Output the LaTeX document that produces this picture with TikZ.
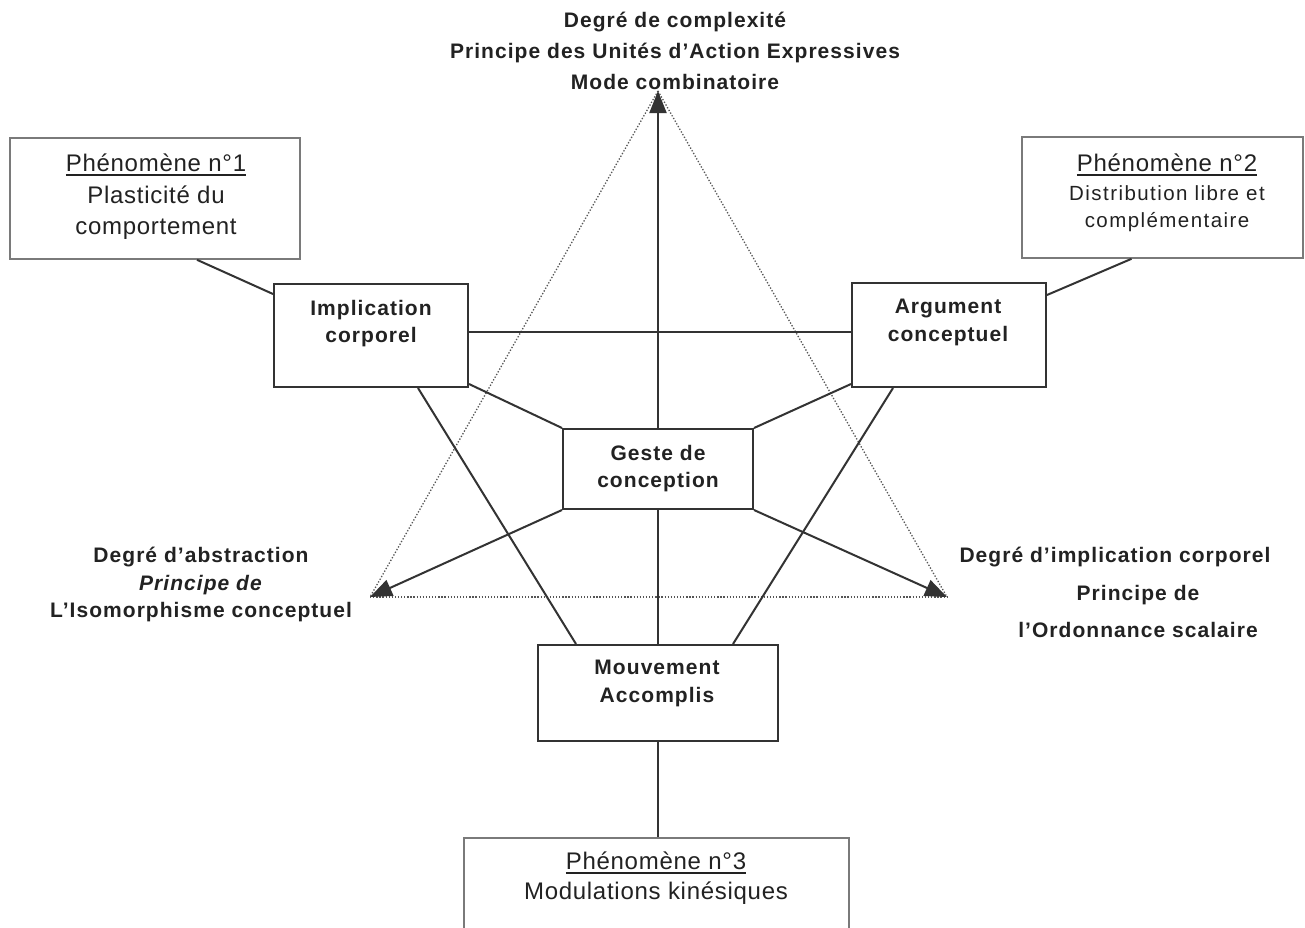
\documentclass[tikz,border=0pt]{standalone}
\usepackage{fontspec}
\setmainfont{Liberation Sans}
\newfontfamily\lblfont[LetterSpace=5]{Liberation Sans}
\newfontfamily\phfont[LetterSpace=3]{Liberation Sans}
\newfontfamily\phsmall[LetterSpace=7]{Liberation Sans}
\usetikzlibrary{arrows.meta}
\definecolor{txt}{HTML}{222222}
\definecolor{boxc}{HTML}{333333}
\definecolor{phc}{HTML}{7A7A7A}
\definecolor{dotc}{HTML}{555555}
\newcommand\phul[1]{\setbox0=\hbox{#1}\rlap{\rule[-4.5pt]{\wd0}{1.8pt}}\box0}
\tikzset{
  box/.style={draw=boxc, line width=2pt, inner sep=0pt, fill=white},
  phbox/.style={draw=phc, line width=1.6pt, inner sep=0pt, fill=white},
  lbl/.style={font=\lblfont\bfseries\fontsize{21}{#1}\selectfont, text=txt, align=center, inner sep=0pt},
  lbl/.default=27,
  phtxt/.style={font=\phfont\fontsize{24}{#1}\selectfont, text=txt, align=center, inner sep=0pt},
  phtxt/.default=31,
  phsm/.style={font=\phsmall\fontsize{20.5}{#1}\selectfont, text=txt, align=center, inner sep=0pt},
  phsm/.default=27,
  conn/.style={draw=boxc, line width=2pt},
  arr/.style={conn, -{Triangle[length=22pt,width=17pt]}},
  dots/.style={draw=dotc, line width=1.3pt, dash pattern=on 1.3pt off 1.8pt}
}
\begin{document}
\begin{tikzpicture}[x=1pt,y=-1pt]
\useasboundingbox (0,0) rectangle (1305,927);
\clip (0,0) rectangle (1305,927);
\fill[white] (0,0) rectangle (1305,927);

% coordinates of the triangle
\coordinate (A) at (658,91);
\coordinate (L) at (370,597);
\coordinate (R) at (947,597);

% dotted triangle
\draw[dots] (A) -- (L);
\draw[dots] (A) -- (R);
\draw[dots] (L) -- (R);

% boxes
\node[phbox, minimum width=290pt, minimum height=121pt] (p1) at (155,198.5) {};
\node[phbox, minimum width=281pt, minimum height=121pt] (p2) at (1162.5,197.5) {};
\node[phbox, minimum width=385pt, minimum height=112pt] (p3) at (656.5,894) {};
\node[box, minimum width=194pt, minimum height=103pt] (impl) at (371,335.5) {};
\node[box, minimum width=194pt, minimum height=104pt] (arg) at (949,335) {};
\node[box, minimum width=190pt, minimum height=80pt] (geste) at (658,469) {};
\node[box, minimum width=240pt, minimum height=96pt] (mouv) at (658,693) {};

% connectors
\draw[conn] ([xshift=42pt]p1.south) -- ([yshift=-11pt]impl.north west);
\draw[conn] ([xshift=-31pt]p2.south) -- ([yshift=-13pt]arg.north east);
\draw[conn] ([yshift=3.5pt]impl.east) -- ([yshift=3.5pt]impl.east -| arg.west);
\draw[conn] ([yshift=4pt]impl.south east) -- (geste.north west);
\draw[conn] ([yshift=4pt]arg.south west) -- (geste.north east);
\draw[conn] ([xshift=47pt]impl.south) -- ([xshift=-82pt]mouv.north);
\draw[conn] ([xshift=-56pt]arg.south) -- ([xshift=75pt]mouv.north);
\draw[conn] (geste.south) -- (mouv.north);
\draw[conn] (mouv.south) -- (mouv.south |- p3.north);
\draw[arr] (geste.north) -- (A);
\draw[arr] (geste.south west) -- (L);
\draw[arr] (geste.south east) -- (R);

% box texts
\node[lbl=27] (implt) at (371,323.5) {Implication\\corporel};
\node[lbl=28.5] (argt) at (948,322.5) {Argument\\conceptuel};
\node[lbl=27] (gestet) at (658,468.5) {Geste de\\conception};
\node[lbl=28] (mouvt) at (657,683) {Mouvement\\Accomplis};

% phenomenon texts
\node[phtxt] (p1h) at (156,165) {\phul{Phénomène n°1}};
\node[phtxt=31] (p1b) at (156,212.5) {Plasticité du\\comportement};
\node[phtxt] (p2h) at (1167,165) {\phul{Phénomène n°2}};
\node[phsm=27] (p2b) at (1167,208.5) {Distribution libre et\\complémentaire};
\node[phtxt] (p3h) at (656,863) {\phul{Phénomène n°3}};
\node[phtxt] (p3b) at (656,893) {Modulations kinésiques};

% axis labels
\node[lbl=31] (toplbl) at (675,51) {Degré de complexité\\Principe des Unités d’Action Expressives\\Mode combinatoire};
\node[lbl=27.5] (leftlbl) at (201,584.5) {Degré d’abstraction\\\textit{Principe de}\\L’Isomorphisme conceptuel};
\node[lbl=37.5] (rightlbl) at (1138,592.5) {Degré d’implication corporel\kern46pt\\Principe de\\l’Ordonnance scalaire};
\end{tikzpicture}
\end{document}
